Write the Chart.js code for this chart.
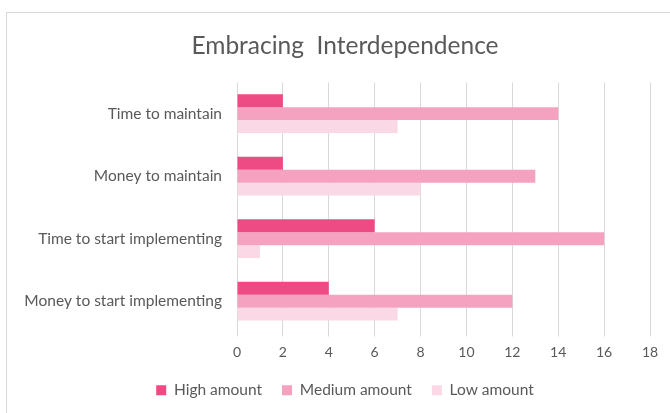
<!DOCTYPE html>
<html>
<head>
<meta charset="utf-8">
<script src="https://cdn.jsdelivr.net/npm/chart.js@4"></script>
<style>
  html, body { margin: 0; padding: 0; background: #fff; overflow: hidden; }
  #frame {
    position: absolute; left: 6px; top: 12px;
    width: 680px; height: 420px;
    border: 1px solid #d9d9d9; box-sizing: border-box;
  }
  #frame canvas { display: block; }
</style>
</head>
<body>
<div id="frame"><canvas id="chart" width="678" height="418"></canvas></div>
<script>
const categories = ['Time to maintain', 'Money to maintain', 'Time to start implementing', 'Money to start implementing'];
const highAmount = [2, 2, 6, 4];
const mediumAmount = [14, 13, 16, 12];
const lowAmount = [7, 8, 1, 7];
const xTicks = [0, 2, 4, 6, 8, 10, 12, 14, 16, 18];

const textColor = '#595959';
const fontFamily = 'Lato, "Open Sans", sans-serif';

new Chart(document.getElementById('chart'), {
  type: 'bar',
  data: {
    labels: categories,
    datasets: [
      { label: 'High amount', data: highAmount, backgroundColor: '#ee4b85' },
      { label: 'Medium amount', data: mediumAmount, backgroundColor: '#f5a2c1' },
      { label: 'Low amount', data: lowAmount, backgroundColor: '#fad8e5' }
    ]
  },
  options: {
    indexAxis: 'y',
    responsive: false,
    animation: false,
    categoryPercentage: 0.62,
    barPercentage: 1.0,
    layout: { padding: { left: 8, right: 10, top: 0, bottom: 23 } },
    plugins: {
      title: {
        display: true,
        text: 'Embracing  Interdependence',
        color: textColor,
        font: { family: fontFamily, size: 24.5, weight: 'normal' },
        padding: { top: 18, bottom: 22 }
      },
      legend: {
        position: 'bottom',
        labels: {
          color: textColor,
          font: { family: fontFamily, size: 15.5 },
          boxWidth: 10, boxHeight: 10, padding: 20
        }
      },
      tooltip: { enabled: false }
    },
    scales: {
      x: {
        min: 0, max: 18,
        afterBuildTicks: s => { s.ticks = xTicks.map(v => ({ value: v })); },
        grid: { color: '#d9d9d9', tickLength: 4 },
        border: { display: false },
        ticks: { color: textColor, font: { family: fontFamily, size: 14 }, padding: 8 },
        afterFit: s => { s.height = 30; }
      },
      y: {
        grid: { display: false, drawTicks: false },
        border: { display: false },
        ticks: { color: textColor, font: { family: fontFamily, size: 15.5 }, padding: 15 },
        afterFit: s => { s.width = 222; }
      },
      // empty right margin so the title and legend centre where the reference has them
      yGap: {
        type: 'linear',
        position: 'right',
        grid: { display: false, drawTicks: false },
        border: { display: false },
        ticks: { display: false },
        afterFit: s => { s.width = 25; }
      }
    }
  }
});
</script>
</body>
</html>
